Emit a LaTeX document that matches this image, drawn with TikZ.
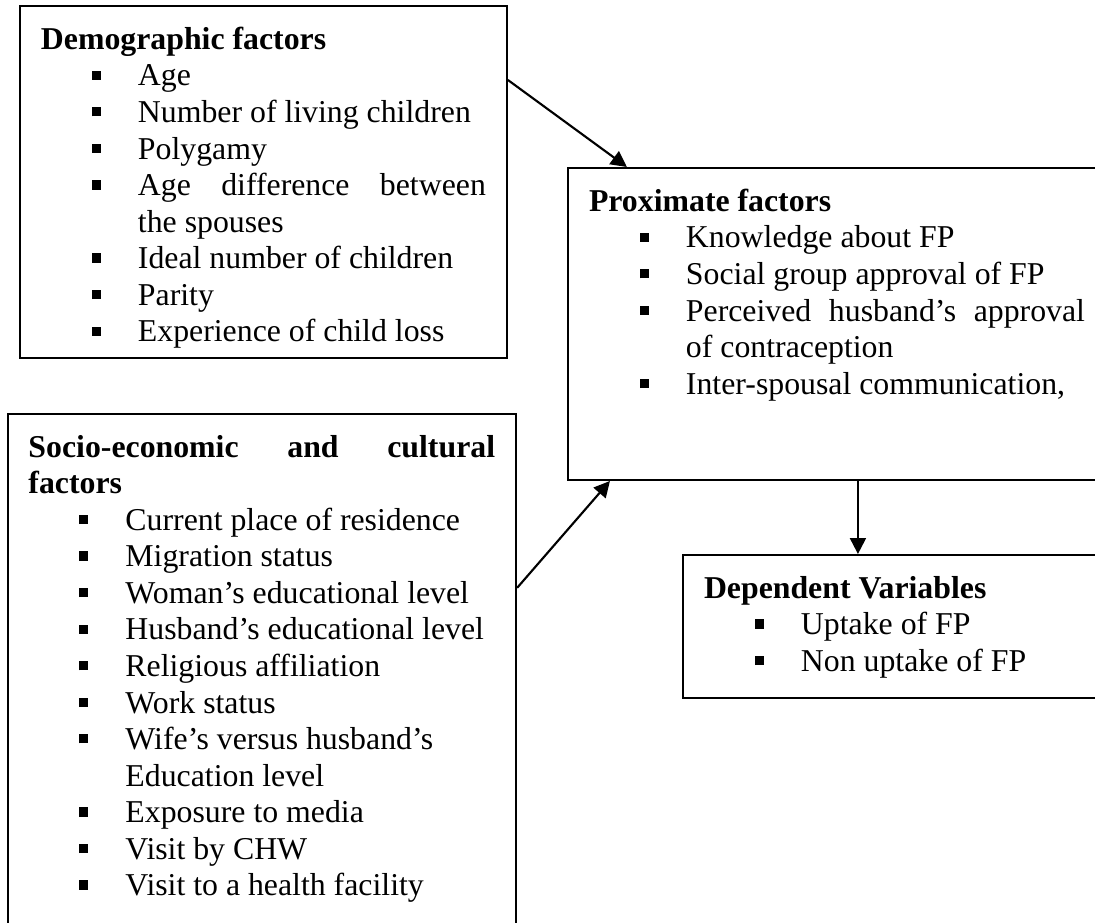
\documentclass[tikz,border=0pt]{standalone}
\usepackage{fontspec}
\setmainfont{Liberation Serif}
\usetikzlibrary{arrows.meta}

\hyphenpenalty=10000
\newcommand{\sqbullet}{\rule[2.3pt]{3.5pt}{3.5pt}}
\newcommand{\factor}[1]{\par{\leftskip=36.6pt\noindent\llap{\sqbullet\hspace{14pt}}#1\par}}

\begin{document}
\begin{tikzpicture}[x=0.3774pt, y=-0.3774pt]
    \tikzstyle{factorbox} = [rectangle, draw=black, line width=0.8pt, inner sep=7.9pt, anchor=north west, align=justify, font=\fontsize{12}{13.8}\selectfont]
    \tikzstyle{link} = [-{Triangle[length=6pt, width=6pt]}, line width=0.8pt]

    \useasboundingbox (0,0) rectangle (1095,923);

    % Determinants
    \node [factorbox] (demog) at (19,5) {\parbox[t][117pt][t]{167.9pt}{%
        \textbf{Demographic factors}
        \factor{Age}
        \factor{Number of living children}
        \factor{Polygamy}
        \factor{Age difference between\linebreak the spouses}
        \factor{Ideal number of children}
        \factor{Parity}
        \factor{Experience of child loss}}};
    \node [factorbox] (socio) at (6.5,413) {\parbox[t][190pt][t]{176.1pt}{%
        \textbf{Socio-economic and cultural\linebreak factors}
        \factor{Current place of residence}
        \factor{Migration status}
        \factor{Woman's educational level}
        \factor{Husband's educational level}
        \factor{Religious affiliation}
        \factor{Work status}
        \factor{Wife's versus husband's\\Education level}
        \factor{Exposure to media}
        \factor{Visit by CHW}
        \factor{Visit to a health facility}}};

    % Intermediate
    \node [factorbox] (prox) at (567,167) {\parbox[t][101.9pt][t]{187.2pt}{%
        \textbf{Proximate factors}
        \factor{Knowledge about FP}
        \factor{Social group approval of FP}
        \factor{Perceived husband's approval\linebreak of contraception}
        \factor{Inter-spousal communication,}}};

    % Outcome
    \node [factorbox] (dep) at (682,554) {\parbox[t][38pt][t]{143.8pt}{%
        \textbf{Dependent Variables}
        \factor{Uptake of FP}
        \factor{Non uptake of FP}}};

    % Connections
    \draw [link] ([yshift=-28.3pt]demog.north east) -- ([xshift=22.6pt]prox.north west);
    \draw [link] ([yshift=-66pt]socio.north east) -- ([xshift=16.2pt]prox.south west);
    \coordinate (down) at ([xshift=109.8pt]prox.south west);
    \draw [link] (down) -- (down |- dep.north);
\end{tikzpicture}
\end{document}
